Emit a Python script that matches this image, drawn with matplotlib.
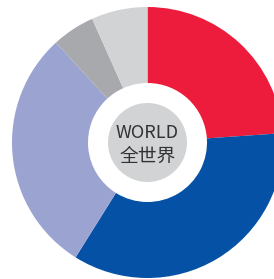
import matplotlib.pyplot as plt
from matplotlib.patches import Circle

# share of each slice, clockwise from 12 o'clock
shares = [23.9, 35.0, 29.3, 5.1, 6.7]
colors = ['#ED1C3C', '#0451A5', '#9BA3D1', '#A7A9AC', '#D1D3D4']
center_lines = ['WORLD', '全世界']

plt.rcParams['font.family'] = ['Noto Sans CJK SC', 'DejaVu Sans']

fig = plt.figure(figsize=(2.74, 2.79), dpi=100)
ax = fig.add_axes([0, 0, 1, 1])

cx, cy = 147.5, 279 - 142.5
r_out, r_in = 135.5, 59.5

ax.pie(shares, colors=colors, startangle=90, counterclock=False,
       center=(cx, cy), radius=r_out, frame=True,
       wedgeprops=dict(width=r_out - r_in, linewidth=0))
ax.set_xlim(0, 274)
ax.set_ylim(0, 279)
ax.set_aspect('equal')
ax.axis('off')

# grey disc in the hole
ax.add_patch(Circle((cx, cy), 39.5, color='#D1D3D4', linewidth=0))
ax.text(cx, cy + 9, center_lines[0], ha='center', va='center',
        fontsize=13, color='#333333')
ax.text(cx, cy - 14, center_lines[1], ha='center', va='center',
        fontsize=13.5, color='#333333')

fig.savefig('out.png', dpi=100)
